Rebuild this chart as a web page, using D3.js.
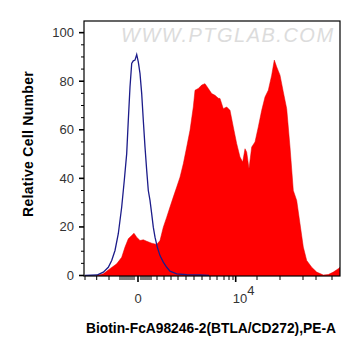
<!DOCTYPE html>
<html><head><meta charset="utf-8">
<script src="https://cdn.jsdelivr.net/npm/d3@7"></script>
<style>html,body{margin:0;padding:0;background:#fff;}svg{display:block;}</style>
</head><body>
<svg id="c" width="362" height="356"></svg>
<script>
// x values are display channels of the logicle-scaled axis (0..256), y is relative cell number
const isoX = [1,13,19.3,24.3,27.7,31,34.3,37.7,40.3,42.7,44.3,46,47.7,49.3,51,52.7,54.3,56,57.7,59.3,61,62.7,64.3,66,67.7,69.3,71,73.3,76,79.3,82.7,86,92.7,102.7,116,125];
const isoY = [0,0.2,1.4,3.4,6.2,10.3,17.2,28.2,39.2,50.2,63.9,77.6,87.3,88.4,88.7,91,88,83.2,74.9,63.9,52.9,43.3,35,30.9,25.4,19.9,15.8,11.7,8.2,5.5,3.4,1.8,0.7,0.3,0.2,0];
const posX = [12.7,19.3,26,32.7,37.7,41,44.3,47.7,50,52.7,56,59.3,62.7,67.7,72.7,76,79.3,82.7,86,89.3,92.7,96,99.3,102.7,106,109.3,111,114.3,117.7,121,124.3,127.7,131,134.3,136,139.3,142.7,146,149.3,152.7,156,158.7,161,162.7,165,167.7,171,174.3,177.7,181,184.3,187.7,190.3,192.7,196,199.3,202.7,206,209.3,212.7,216,219.3,222.7,227.7,232.7,239.3,244.3,249.3,254.3,256];
const posY = [0,0.7,2.8,4.8,7.5,11.7,15.1,16.5,17.4,15.8,14.4,14.7,14.1,13.3,12.8,14.4,19.9,24,28.2,32.3,36.4,40.5,46,52.9,59.8,69.4,76.3,77,78.4,79,77,74.9,74.2,73,72.9,68.7,69.4,68,61.2,54.3,48.8,46.7,52.2,50.8,44,52.9,55,61.2,68,73.5,76.3,82.5,88.7,85.9,82.5,75.6,68.7,52.9,35,30.9,21.3,11.7,6.2,3.4,1.4,0.2,0.4,1.4,2.8,3.4];
const xMajorTicks = [54, 151.7];
const xMajorLabels = ["0", "10^4"];
const xMinorTicks = [1,12.7,25,36,38,40,42,44,46,48,50,57,59,61,63,65,67,73,80,87,94,102,110,118,126,133,140,145,149,173,196,219,232,248];
const yMajorTicks = [0,20,40,60,80,100];
const yMinorTicks = [5,10,15,25,30,35,45,50,55,65,70,75,85,90,95];
const xTitle = "Biotin-FcA98246-2(BTLA/CD272),PE-A";
const yTitle = "Relative Cell Number";
const watermark = "WWW.PTGLAB.COM";

const svg = d3.select("#c");
const L = 84, R = 340, T = 21, B = 276;
const x = d3.scaleLinear().domain([0, 256]).range([L, R]);
const y = d3.scaleLinear().domain([0, 104.8]).range([275.5, T]);
const font = "'Liberation Sans', Arial, sans-serif";

svg.append("rect").attr("width", 362).attr("height", 356).attr("fill", "#fff");

// watermark
svg.append("text").attr("x", 121).attr("y", 41.5)
  .attr("font-family", font).attr("font-size", 20).attr("font-style", "italic")
  .attr("letter-spacing", 1.5).attr("fill", "#dcdcdc").text(watermark);

svg.append("clipPath").attr("id", "clip").append("rect")
  .attr("x", L).attr("y", T).attr("width", R - L).attr("height", B - T);

const g = svg.append("g").attr("clip-path", "url(#clip)");
const pos = posX.map((v, i) => [v, posY[i]]);
const iso = isoX.map((v, i) => [v, isoY[i]]);
g.append("path").datum(pos)
  .attr("d", d3.area().x(d => x(d[0])).y0(y(0) + 1).y1(d => y(d[1])))
  .attr("fill", "#ff0000").attr("stroke", "#e00000").attr("stroke-width", 0.5);
g.append("path").datum(iso)
  .attr("d", d3.line().x(d => x(d[0])).y(d => y(d[1])))
  .attr("fill", "none").attr("stroke", "#1c1c8a").attr("stroke-width", 1.3);

// frame
svg.append("rect").attr("x", L).attr("y", T).attr("width", R - L).attr("height", B - T)
  .attr("fill", "none").attr("stroke", "#000").attr("stroke-width", 1.2);

// y ticks
yMajorTicks.forEach(v => {
  svg.append("line").attr("x1", L - 5).attr("x2", L).attr("y1", y(v)).attr("y2", y(v))
    .attr("stroke", "#000").attr("stroke-width", 1.6);
  svg.append("text").attr("x", L - 10).attr("y", y(v) + 4.5).attr("text-anchor", "end")
    .attr("font-family", font).attr("font-size", 13).attr("fill", "#333").text(v);
});
yMinorTicks.forEach(v => {
  svg.append("line").attr("x1", L - 3).attr("x2", L).attr("y1", y(v)).attr("y2", y(v))
    .attr("stroke", "#000").attr("stroke-width", 1);
});
// x ticks
xMinorTicks.forEach(v => {
  svg.append("line").attr("x1", x(v)).attr("x2", x(v)).attr("y1", B).attr("y2", B + 4)
    .attr("stroke", "#000").attr("stroke-width", 1);
});
xMajorTicks.forEach((v, i) => {
  svg.append("line").attr("x1", x(v)).attr("x2", x(v)).attr("y1", B).attr("y2", B + 6)
    .attr("stroke", "#000").attr("stroke-width", 1.6);
  const lab = xMajorLabels[i];
  if (lab.includes("^")) {
    const [base, exp] = lab.split("^");
    const t = svg.append("text").attr("x", x(v) - 3).attr("y", 302.5)
      .attr("font-family", font).attr("font-size", 13).attr("fill", "#333");
    t.append("tspan").text(base);
    t.append("tspan").attr("dy", -8).text(exp);
  } else {
    svg.append("text").attr("x", x(v)).attr("y", 302.5).attr("text-anchor", "middle")
      .attr("font-family", font).attr("font-size", 13).attr("fill", "#333").text(lab);
  }
});

// titles
svg.append("text").attr("x", 211).attr("y", 333).attr("text-anchor", "middle")
  .attr("font-family", font).attr("font-size", 13.8).attr("font-weight", "bold")
  .attr("fill", "#000").text(xTitle);
svg.append("text").attr("transform", "translate(32.5,144) rotate(-90)").attr("text-anchor", "middle")
  .attr("font-family", font).attr("font-size", 14).attr("font-weight", "bold")
  .attr("letter-spacing", 0.3).attr("fill", "#000").text(yTitle);
</script>
</body></html>
